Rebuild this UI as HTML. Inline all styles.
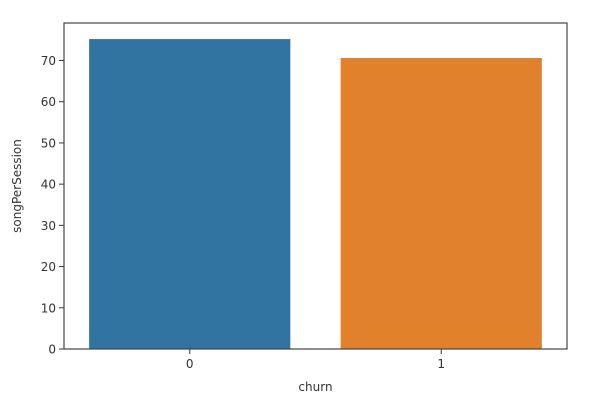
<!DOCTYPE html>
<html><head><meta charset="utf-8"><style>
body{margin:0;background:#fff;}
svg{display:block;font-family:"DejaVu Sans","Liberation Sans",sans-serif;}
</style></head><body>
<svg id="chart" width="606" height="412">
<g id="plot"></g>
</svg>
<script>
const categories = ["0", "1"];
const values = [75.2, 70.6];
const yTicks = [0, 10, 20, 30, 40, 50, 60, 70];
const colors = ["#3274a1", "#e1812c"];
const NS = "http://www.w3.org/2000/svg";
const L = 64, R = 567, T = 23, B = 349;
const y = v => B - v * (B - 60.5) / 70;
const band = (R - L) / categories.length;
const x = i => L + band * i + band / 2;
const g = document.getElementById('plot');
function mk(tag, attrs, text) {
  const e = document.createElementNS(NS, tag);
  for (const k in attrs) e.setAttribute(k, attrs[k]);
  if (text !== undefined) e.textContent = text;
  g.appendChild(e);
  return e;
}
categories.forEach((c, i) => {
  const w = band * 0.8;
  const b = mk('rect', {x: x(i) - w / 2, y: y(values[i]), width: w, height: B - y(values[i]), fill: colors[i]});
  
  
  const t = mk('line', {x1: x(i), x2: x(i), y1: B, y2: B + 5, stroke: '#333', 'stroke-width': 1});
  
  
  const tl = mk('text', {x: x(i), y: B + 19, 'text-anchor': 'middle', 'font-size': 12, fill: '#333'}, c);
  
  
});
yTicks.forEach(v => {
  const t = mk('line', {x1: L - 5, x2: L, y1: y(v), y2: y(v), stroke: '#333', 'stroke-width': 1});
  
  
  const tl = mk('text', {x: L - 8, y: y(v) + 4.5, 'text-anchor': 'end', 'font-size': 12, fill: '#333'}, v);
  
  
});
const frame = mk('rect', {x: L, y: T, width: R - L, height: B - T, fill: 'none', stroke: '#444', 'stroke-width': 1.2});


const xt = mk('text', {x: (L + R) / 2, y: 391, 'text-anchor': 'middle', 'font-size': 12, fill: '#333'}, 'churn');


const yt = mk('text', {x: 0, y: 0, 'text-anchor': 'middle', 'font-size': 12, fill: '#333', transform: 'translate(21,' + ((T + B) / 2) + ') rotate(-90)'}, 'songPerSession');


</script>
</body></html>
